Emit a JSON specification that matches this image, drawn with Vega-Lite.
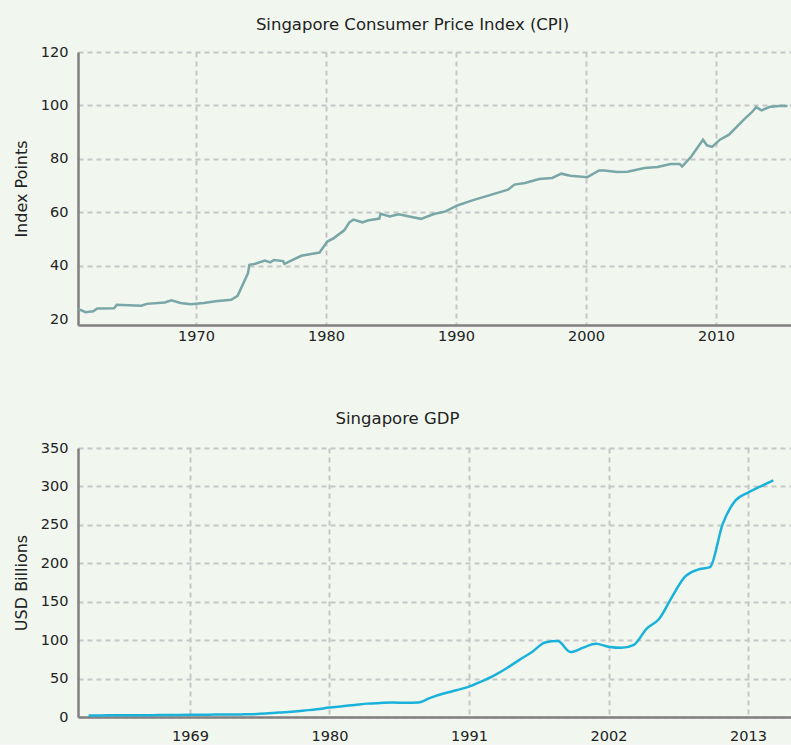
{
  "$schema": "https://vega.github.io/schema/vega-lite/v6.json",
  "background": "#f1f7ef",
  "padding": {"left": 13, "top": 16, "right": 1, "bottom": 2},
  "spacing": 67,
  "config": {
    "font": "DejaVu Sans",
    "view": {"stroke": null},
    "axis": {
      "labelFont": "DejaVu Sans",
      "labelFontSize": 14.5,
      "labelFontWeight": "normal",
      "labelColor": "#222222",
      "titleFont": "DejaVu Sans",
      "titleFontSize": 16,
      "titleFontWeight": "normal",
      "titleColor": "#222222",
      "domainColor": "#808080",
      "domainWidth": 2.5,
      "ticks": false,
      "gridColor": "#c6c6c6",
      "gridDash": [5, 4],
      "gridWidth": 2
    },
    "title": {"font": "DejaVu Sans", "fontSize": 16.5, "fontWeight": "normal", "color": "#222222"}
  },
  "vconcat": [
    {
      "title": {"text": "Singapore Consumer Price Index (CPI)", "offset": 11, "dx": -22},
      "width": 713,
      "height": 273,
      "data": {"values": [
        {"year": 1960.92, "cpi": 23.9}, {"year": 1961.5, "cpi": 22.7}, {"year": 1962.1, "cpi": 23.0},
        {"year": 1962.4, "cpi": 24.1}, {"year": 1963.7, "cpi": 24.2}, {"year": 1963.9, "cpi": 25.5},
        {"year": 1965.8, "cpi": 25.1}, {"year": 1966.2, "cpi": 25.8}, {"year": 1967.6, "cpi": 26.3},
        {"year": 1968.1, "cpi": 27.1}, {"year": 1968.8, "cpi": 26.1}, {"year": 1969.6, "cpi": 25.7},
        {"year": 1970.6, "cpi": 26.1}, {"year": 1971.5, "cpi": 26.8}, {"year": 1972.7, "cpi": 27.3},
        {"year": 1973.2, "cpi": 28.8}, {"year": 1974.0, "cpi": 37.3}, {"year": 1974.1, "cpi": 40.4},
        {"year": 1974.5, "cpi": 40.7}, {"year": 1975.3, "cpi": 42.0}, {"year": 1975.7, "cpi": 41.3},
        {"year": 1976.0, "cpi": 42.2}, {"year": 1976.7, "cpi": 41.8}, {"year": 1976.8, "cpi": 40.8},
        {"year": 1978.1, "cpi": 43.8}, {"year": 1979.5, "cpi": 45.0}, {"year": 1980.1, "cpi": 49.1},
        {"year": 1980.6, "cpi": 50.4}, {"year": 1981.4, "cpi": 53.3}, {"year": 1981.8, "cpi": 56.3},
        {"year": 1982.1, "cpi": 57.3}, {"year": 1982.8, "cpi": 56.3}, {"year": 1983.2, "cpi": 57.0},
        {"year": 1984.1, "cpi": 57.7}, {"year": 1984.2, "cpi": 59.5}, {"year": 1984.9, "cpi": 58.5},
        {"year": 1985.6, "cpi": 59.3}, {"year": 1986.5, "cpi": 58.4}, {"year": 1987.3, "cpi": 57.6},
        {"year": 1988.3, "cpi": 59.4}, {"year": 1989.2, "cpi": 60.4}, {"year": 1990.1, "cpi": 62.6},
        {"year": 1991.2, "cpi": 64.4}, {"year": 1994.0, "cpi": 68.5}, {"year": 1994.5, "cpi": 70.4},
        {"year": 1995.3, "cpi": 71.0}, {"year": 1996.4, "cpi": 72.5}, {"year": 1997.4, "cpi": 72.9},
        {"year": 1998.1, "cpi": 74.5}, {"year": 1998.8, "cpi": 73.7}, {"year": 2000.1, "cpi": 73.2},
        {"year": 2001.0, "cpi": 75.7}, {"year": 2001.4, "cpi": 75.7}, {"year": 2002.4, "cpi": 75.1},
        {"year": 2003.2, "cpi": 75.2}, {"year": 2004.5, "cpi": 76.6}, {"year": 2005.5, "cpi": 77.0},
        {"year": 2006.5, "cpi": 78.1}, {"year": 2007.2, "cpi": 78.1}, {"year": 2007.4, "cpi": 77.2},
        {"year": 2008.1, "cpi": 80.9}, {"year": 2009.0, "cpi": 87.2}, {"year": 2009.3, "cpi": 85.1},
        {"year": 2009.7, "cpi": 84.5}, {"year": 2010.3, "cpi": 87.2}, {"year": 2011.0, "cpi": 89.1},
        {"year": 2012.2, "cpi": 95.0}, {"year": 2012.7, "cpi": 97.2}, {"year": 2013.1, "cpi": 99.4},
        {"year": 2013.5, "cpi": 98.2}, {"year": 2014.1, "cpi": 99.4}, {"year": 2015.0, "cpi": 99.9},
        {"year": 2015.5, "cpi": 99.8}
      ]},
      "mark": {"type": "line", "color": "#79a6a7", "strokeWidth": 2.5, "interpolate": "linear"},
      "encoding": {
        "x": {
          "field": "year", "type": "quantitative",
          "scale": {"domain": [1960.92, 2015.77], "nice": false, "zero": false},
          "axis": {"title": null, "values": [1970, 1980, 1990, 2000, 2010], "format": "d", "labelPadding": 4, "grid": true}
        },
        "y": {
          "field": "cpi", "type": "quantitative",
          "scale": {"domain": [17.9, 120], "nice": false, "zero": false},
          "axis": {
            "title": "Index Points", "values": [20, 40, 60, 80, 100, 120],
            "labelPadding": 10, "titlePadding": 11, "grid": true,
            "gridOpacity": {"condition": {"test": "datum.value === 20", "value": 0}, "value": 1}
          }
        }
      }
    },
    {
      "title": {"text": "Singapore GDP", "offset": 13, "dx": -37},
      "width": 713,
      "height": 269,
      "data": {"values": [
        {"year": 1961, "gdp": 2.0}, {"year": 1962, "gdp": 2.1}, {"year": 1963, "gdp": 2.2},
        {"year": 1964, "gdp": 2.2}, {"year": 1965, "gdp": 2.3}, {"year": 1966, "gdp": 2.4},
        {"year": 1967, "gdp": 2.5}, {"year": 1968, "gdp": 2.6}, {"year": 1969, "gdp": 2.8},
        {"year": 1970, "gdp": 3.0}, {"year": 1971, "gdp": 3.1}, {"year": 1972, "gdp": 3.2},
        {"year": 1973, "gdp": 3.4}, {"year": 1974, "gdp": 3.7}, {"year": 1975, "gdp": 4.5},
        {"year": 1976, "gdp": 5.8}, {"year": 1977, "gdp": 6.7}, {"year": 1978, "gdp": 8.4},
        {"year": 1979, "gdp": 10.1}, {"year": 1980, "gdp": 12.3}, {"year": 1981, "gdp": 14.0},
        {"year": 1982, "gdp": 15.7}, {"year": 1983, "gdp": 17.4}, {"year": 1984, "gdp": 18.2},
        {"year": 1985, "gdp": 18.8}, {"year": 1986, "gdp": 18.4}, {"year": 1987, "gdp": 18.8},
        {"year": 1988, "gdp": 25.3}, {"year": 1989, "gdp": 30.5}, {"year": 1990, "gdp": 34.8},
        {"year": 1991, "gdp": 39.5}, {"year": 1992, "gdp": 46.4}, {"year": 1993, "gdp": 54.2},
        {"year": 1994, "gdp": 63.8}, {"year": 1995, "gdp": 74.6}, {"year": 1996, "gdp": 85.0},
        {"year": 1997, "gdp": 97.0}, {"year": 1998, "gdp": 98.8}, {"year": 1999, "gdp": 84.5},
        {"year": 2000, "gdp": 90.2}, {"year": 2001, "gdp": 95.2}, {"year": 2002, "gdp": 91.5},
        {"year": 2003, "gdp": 90.0}, {"year": 2004, "gdp": 94.0}, {"year": 2005, "gdp": 114.8},
        {"year": 2006, "gdp": 127.8}, {"year": 2007, "gdp": 156.0}, {"year": 2008, "gdp": 182.0},
        {"year": 2009, "gdp": 191.5}, {"year": 2010, "gdp": 195.0}, {"year": 2011, "gdp": 251.0},
        {"year": 2012, "gdp": 281.5}, {"year": 2013, "gdp": 292.0}, {"year": 2014, "gdp": 300.0},
        {"year": 2015, "gdp": 308.0}
      ]},
      "mark": {"type": "line", "color": "#1ab2db", "strokeWidth": 2.5, "interpolate": "monotone"},
      "encoding": {
        "x": {
          "field": "year", "type": "quantitative",
          "scale": {"domain": [1960.17, 2016.39], "nice": false, "zero": false},
          "axis": {"title": null, "values": [1969, 1980, 1991, 2002, 2013], "format": "d", "labelPadding": 12, "grid": true}
        },
        "y": {
          "field": "gdp", "type": "quantitative",
          "scale": {"domain": [0, 350], "nice": false},
          "axis": {"title": "USD Billions", "values": [0, 50, 100, 150, 200, 250, 300, 350], "labelPadding": 10, "titlePadding": 11, "grid": true}
        }
      }
    }
  ]
}
